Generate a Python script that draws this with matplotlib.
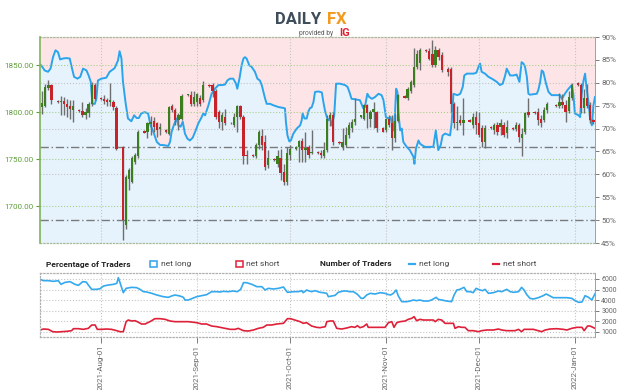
import numpy as np
import pandas as pd
import matplotlib
matplotlib.use("Agg")
import matplotlib.pyplot as plt
import matplotlib.dates as mdates
from matplotlib.patches import Rectangle
from matplotlib.lines import Line2D
from matplotlib.ticker import FormatStrFormatter

plt.rcParams['font.family'] = ['Roboto', 'DejaVu Sans']

# daily candles, Sunday to Friday sessions (no session on 2021-12-24)
candle_days = pd.bdate_range("2021-07-13", "2022-01-07", freq="C",
                             weekmask="Sun Mon Tue Wed Thu Fri",
                             holidays=["2021-12-24"])

# one row per week
opens = [1805, 1807, 1826, 1829,
         1812, 1811, 1812, 1809, 1807, 1802,
         1802, 1801, 1797, 1799, 1809, 1829,
         1815, 1814, 1813, 1811, 1811, 1804,
         1763, 1680, 1729, 1726, 1747, 1753,
         1780, 1779, 1787, 1791, 1788, 1782,
         1781, 1777, 1806, 1802, 1792, 1793,
         1818, 1818, 1809, 1811, 1815, 1813,
         1829, 1829, 1823, 1800, 1790, 1795,
         1788, 1786, 1795, 1806, 1795, 1754,
         1754, 1753, 1765, 1775, 1768, 1744,
         1750, 1745, 1751, 1736, 1726, 1754,
         1761, 1763, 1769, 1760, 1763, 1756,
         1758, 1756, 1753, 1760, 1793, 1797,
         1768, 1763, 1765, 1776, 1783, 1790,
         1795, 1793, 1808, 1793, 1800, 1800,
         1783, 1781, 1793, 1788, 1772, 1791,
         1817, 1815, 1822, 1829, 1848, 1852,
         1866, 1865, 1862, 1850, 1866, 1861,
         1846, 1846, 1809, 1788, 1792, 1788,
         1792, 1786, 1795, 1788, 1783, 1768,
         1784, 1781, 1786, 1784, 1786, 1778,
         1783, 1782, 1786, 1772, 1779, 1800,
         1800, 1800, 1793, 1792, 1802,
         1808, 1806, 1811, 1808, 1801, 1815,
         1831, 1829, 1804, 1815, 1808, 1792]
highs = [1822, 1830, 1834, 1830,
         1813, 1817, 1816, 1814, 1813, 1813,
         1803, 1811, 1804, 1811, 1832, 1831,
         1816, 1818, 1815, 1831, 1813, 1806,
         1764, 1733, 1740, 1753, 1756, 1781,
         1781, 1790, 1796, 1795, 1790, 1788,
         1782, 1806, 1809, 1804, 1799, 1819,
         1819, 1822, 1823, 1820, 1818, 1833,
         1830, 1831, 1825, 1802, 1800, 1803,
         1789, 1799, 1808, 1808, 1797, 1760,
         1755, 1767, 1781, 1782, 1776, 1760,
         1751, 1760, 1761, 1745, 1763, 1765,
         1764, 1770, 1772, 1779, 1765, 1781,
         1759, 1760, 1768, 1797, 1800, 1800,
         1769, 1783, 1784, 1789, 1793, 1815,
         1797, 1809, 1809, 1802, 1811, 1801,
         1784, 1794, 1797, 1797, 1798, 1819,
         1818, 1827, 1834, 1868, 1866, 1868,
         1867, 1868, 1877, 1870, 1868, 1864,
         1848, 1848, 1811, 1807, 1797, 1815,
         1793, 1799, 1801, 1800, 1786, 1786,
         1785, 1788, 1790, 1793, 1790, 1792,
         1784, 1789, 1788, 1783, 1800, 1815,
         1801, 1804, 1797, 1805, 1811,
         1809, 1820, 1819, 1813, 1822, 1831,
         1832, 1831, 1825, 1830, 1811, 1793]
lows = [1798, 1805, 1824, 1809,
        1810, 1797, 1797, 1795, 1793, 1790,
        1800, 1795, 1793, 1795, 1807, 1813,
        1813, 1809, 1807, 1807, 1802, 1760,
        1664, 1676, 1717, 1724, 1745, 1751,
        1778, 1772, 1776, 1779, 1774, 1776,
        1778, 1776, 1800, 1786, 1781, 1792,
        1817, 1806, 1806, 1806, 1806, 1811,
        1827, 1816, 1793, 1783, 1781, 1786,
        1787, 1784, 1779, 1793, 1745, 1745,
        1752, 1751, 1761, 1760, 1738, 1740,
        1748, 1742, 1728, 1722, 1722, 1749,
        1760, 1747, 1747, 1747, 1751, 1755,
        1755, 1751, 1751, 1758, 1785, 1765,
        1766, 1760, 1763, 1772, 1779, 1786,
        1794, 1792, 1783, 1784, 1783, 1779,
        1779, 1779, 1784, 1760, 1768, 1790,
        1815, 1813, 1820, 1827, 1846, 1845,
        1864, 1855, 1848, 1848, 1855, 1843,
        1839, 1800, 1783, 1781, 1786, 1776,
        1789, 1783, 1777, 1774, 1763, 1762,
        1782, 1777, 1776, 1776, 1774, 1772,
        1781, 1780, 1768, 1753, 1777, 1795,
        1798, 1786, 1784, 1790, 1799,
        1805, 1804, 1804, 1790, 1799, 1813,
        1828, 1799, 1799, 1804, 1788, 1787]
closes = [1810, 1827, 1829, 1813,
          1811, 1812, 1809, 1805, 1803, 1807,
          1801, 1797, 1800, 1809, 1829, 1814,
          1814, 1812, 1811, 1813, 1805, 1761,
          1685, 1731, 1738, 1751, 1754, 1779,
          1778, 1788, 1790, 1784, 1781, 1784,
          1779, 1805, 1802, 1792, 1797, 1817,
          1818, 1809, 1816, 1819, 1809, 1829,
          1828, 1822, 1795, 1789, 1797, 1788,
          1788, 1795, 1806, 1795, 1753, 1753,
          1753, 1765, 1779, 1765, 1742, 1751,
          1749, 1753, 1735, 1726, 1756, 1761,
          1763, 1769, 1760, 1762, 1754, 1758,
          1756, 1754, 1760, 1793, 1797, 1768,
          1767, 1768, 1776, 1786, 1790, 1793,
          1797, 1808, 1799, 1800, 1803, 1783,
          1779, 1793, 1786, 1772, 1791, 1818,
          1815, 1825, 1832, 1848, 1862, 1866,
          1865, 1857, 1850, 1866, 1859, 1845,
          1843, 1809, 1788, 1790, 1788, 1792,
          1790, 1795, 1786, 1776, 1768, 1783,
          1783, 1786, 1779, 1788, 1776, 1784,
          1782, 1786, 1774, 1777, 1799, 1797,
          1799, 1792, 1788, 1802, 1809,
          1806, 1811, 1808, 1800, 1816, 1829,
          1829, 1804, 1815, 1806, 1792, 1789]

# % of traders net long (days after 2021-08-01)
pct_days = [-19.7, -19.3, -18.2, -17.1, -16.3, -15.5, -14.7, -13.9, -13.2, -12.3,
            -11.2, -10.1, -9.6, -8.7, -7.6, -6.7, -5.8, -4.7, -4.0, -3.3,
            -2.8, -2.0, -1.5, -1.0, 0.1, 1.7, 2.8, 4.4, 5.5, 6.0,
            6.6, 7.1, 7.9, 8.7, 9.8, 10.7, 11.5, 12.2, 13.0, 14.1,
            15.2, 16.0, 16.9, 18.0, 19.1, 20.1, 21.7, 22.3, 22.8, 23.6,
            24.4, 25.0, 25.7, 26.4, 27.1, 27.9, 28.7, 29.6, 30.4, 31.4,
            32.5, 33.0, 33.6, 34.7, 35.7, 36.8, 37.9, 39.0, 40.0, 40.8,
            41.6, 42.7, 43.6, 44.0, 44.7, 45.4, 46.0, 46.5, 47.0, 47.9,
            48.6, 49.7, 50.5, 51.3, 51.9, 53.0, 53.5, 54.6, 55.6, 57.3,
            58.9, 59.4, 59.7, 60.2, 60.8, 61.3, 62.1, 63.2, 64.3, 64.8,
            65.1, 65.7, 66.4, 67.0, 67.5, 68.0, 68.6, 69.1, 70.2, 71.3,
            71.8, 72.3, 72.9, 73.4, 74.0, 74.5, 75.3, 75.9, 77.2, 78.8,
            79.6, 80.2, 80.9, 82.0, 83.6, 84.7, 85.2, 86.0, 86.6, 87.5,
            88.5, 89.6, 90.6, 91.2, 92.0, 92.8, 93.5, 94.4, 94.9, 95.3,
            95.7, 96.0, 96.6, 97.1, 97.6, 98.7, 99.7, 100.9, 101.2, 101.7,
            102.5, 103.0, 103.6, 104.6, 106.2, 107.3, 108.1, 108.9, 109.7, 110.3,
            111.1, 112.7, 113.2, 113.8, 115.1, 116.0, 116.8, 117.3, 118.1, 120.3,
            121.2, 121.9, 122.4, 122.9, 124.0, 125.1, 126.2, 127.8, 128.8, 129.7,
            130.5, 131.0, 132.1, 133.2, 134.2, 135.1, 135.8, 136.4, 136.9, 137.5,
            138.0, 138.5, 140.7, 141.2, 141.8, 142.3, 142.8, 143.7, 144.5, 145.5,
            148.2, 148.8, 149.8, 150.6, 152.0, 152.5, 153.0, 154.2, 154.7, 155.2,
            155.8, 156.3, 156.8, 157.4, 157.9, 158.5, 159.0, 159.5]
pct_long = [84.0, 83.8, 82.7, 82.4, 83.1, 85.6, 87.1, 86.7, 85.1, 85.3,
            85.4, 85.3, 83.8, 81.3, 80.9, 81.3, 83.1, 82.7, 81.6, 80.2,
            75.4, 75.4, 76.5, 80.5, 80.9, 81.1, 82.4, 83.2, 84.9, 86.9,
            85.3, 80.2, 75.8, 72.2, 71.6, 72.9, 72.3, 72.3, 73.3, 73.6,
            73.3, 70.7, 69.3, 67.1, 66.4, 66.4, 66.2, 67.1, 69.3, 70.9,
            72.2, 70.7, 70.4, 71.5, 68.9, 67.8, 67.4, 68.0, 69.3, 71.1,
            72.5, 73.3, 72.9, 75.1, 77.6, 78.7, 79.5, 79.5, 79.6, 80.5,
            80.9, 80.9, 79.8, 78.7, 80.9, 83.8, 85.3, 85.6, 85.3, 83.8,
            83.5, 82.4, 80.9, 80.5, 79.5, 76.5, 75.4, 75.4, 75.1, 74.7,
            74.5, 74.4, 71.5, 68.5, 67.2, 67.4, 68.9, 70.0, 70.7, 71.8,
            73.3, 72.2, 72.2, 73.8, 74.5, 74.6, 75.8, 78.0, 78.1, 77.9,
            75.8, 74.0, 72.5, 71.8, 72.2, 70.7, 72.9, 79.8, 79.8, 79.5,
            79.1, 78.0, 76.5, 76.4, 76.2, 74.4, 74.7, 77.6, 76.9, 76.5,
            76.9, 77.6, 77.3, 76.2, 72.5, 72.2, 72.5, 69.6, 72.9, 78.7,
            78.0, 73.6, 69.6, 70.0, 67.1, 66.0, 65.3, 63.8, 62.3, 65.6,
            67.4, 66.7, 66.4, 66.0, 66.0, 66.0, 69.6, 65.3, 66.4, 68.5,
            68.9, 68.5, 71.1, 77.6, 77.3, 77.6, 79.1, 81.6, 82.0, 82.0,
            82.2, 83.5, 84.2, 82.4, 82.0, 81.3, 80.9, 80.2, 79.5, 79.8,
            81.6, 83.1, 81.6, 81.6, 81.8, 80.2, 84.5, 84.2, 83.5, 81.3,
            77.6, 77.4, 77.6, 78.4, 80.2, 82.7, 82.4, 79.8, 78.0, 77.3,
            77.3, 76.5, 77.6, 78.4, 79.5, 77.6, 73.3, 72.9, 72.5, 77.6,
            80.5, 82.0, 78.7, 75.8, 72.2, 70.7, 75.1, 76.9]

# number of traders
long_days = [-19.7, -18.6, -17.0, -15.4, -13.8, -12.9, -11.6, -10.0, -8.4, -7.3,
             -5.9, -4.8, -4.1, -3.0, -1.4, -0.3, 0.8, 2.4, 4.0, 5.1,
             5.6, 6.4, 7.2, 8.1, 9.9, 11.5, 12.6, 13.7, 14.7, 16.4,
             18.0, 20.1, 21.7, 22.8, 23.9, 25.5, 26.6, 27.1, 28.2, 29.3,
             30.9, 32.5, 34.1, 35.7, 37.4, 38.4, 39.5, 41.1, 42.7, 44.0,
             45.1, 46.0, 47.0, 48.7, 50.3, 51.9, 53.0, 54.0, 55.7, 57.3,
             58.9, 60.2, 62.1, 63.7, 64.8, 65.3, 66.4, 66.9, 68.0, 69.1,
             70.7, 71.8, 72.9, 73.4, 74.5, 75.6, 76.6, 78.3, 79.3, 80.2,
             81.5, 82.8, 84.0, 84.7, 85.8, 86.9, 88.5, 90.1, 91.7, 92.5,
             93.5, 94.4, 95.3, 96.0, 97.1, 98.7, 99.8, 100.9, 101.9, 103.0,
             104.1, 105.7, 106.7, 108.2, 108.9, 110.0, 111.6, 113.2, 114.0, 114.9,
             115.9, 117.2, 118.1, 119.2, 120.2, 121.1, 122.4, 123.2, 124.0, 125.1,
             126.7, 128.3, 129.4, 131.0, 132.1, 133.2, 134.8, 135.8, 136.6, 137.4,
             138.5, 139.6, 141.2, 142.8, 143.7, 144.4, 146.0, 148.2, 150.4, 152.0,
             153.1, 154.2, 155.3, 156.3, 157.4, 158.5, 159.5]
long_count = [5968, 5841, 5841, 5778, 5841, 5493, 5683, 5746, 5493, 5398,
              5746, 5715, 5430, 5019, 5019, 5082, 5335, 5430, 5493, 5588,
              6126, 5430, 4702, 5114, 5208, 5177, 5019, 4797, 4766, 4639,
              4481, 4323, 4260, 4386, 4481, 4386, 4260, 4007, 4007, 4133,
              4323, 4418, 4513, 4797, 4797, 4766, 4829, 4797, 4861, 4797,
              5019, 5651, 5651, 5493, 5272, 5272, 4955, 5114, 5050, 5114,
              5240, 4734, 4797, 4797, 4892, 4702, 4955, 4892, 4797, 4892,
              4734, 4702, 4639, 4323, 4386, 4449, 4734, 4861, 4861, 4797,
              4797, 4544, 4165, 4165, 4481, 4639, 4576, 4702, 4639, 4544,
              4481, 4639, 4955, 4386, 3848, 3848, 3912, 4007, 3943, 4007,
              3912, 3912, 4007, 4260, 4070, 4007, 3912, 3848, 4481, 4955,
              5019, 5208, 4797, 4797, 4702, 5114, 4955, 4892, 5019, 4639,
              4702, 4861, 4797, 5019, 4797, 4734, 4797, 5208, 4955, 4544,
              4165, 4101, 4228, 4418, 4576, 4481, 4228, 4228, 4228, 4165,
              3943, 3785, 3817, 4418, 4260, 4007, 4600]
short_days = [-19.7, -18.6, -17.0, -15.6, -14.3, -12.7, -11.1, -9.5, -8.9, -7.3,
              -5.7, -4.1, -3.0, -1.9, -1.2, 0.2, 1.8, 3.4, 5.1, 6.1,
              7.2, 8.1, 8.8, 9.9, 11.0, 11.7, 13.1, 14.2, 15.8, 17.4,
              19.1, 20.7, 22.3, 23.9, 26.0, 28.2, 30.9, 32.5, 34.1, 35.7,
              37.4, 39.5, 41.7, 43.3, 44.3, 46.0, 47.6, 49.2, 50.8, 52.4,
              53.5, 55.1, 56.7, 58.9, 60.2, 61.2, 62.6, 64.3, 65.3, 66.4,
              68.0, 69.6, 70.7, 72.4, 72.9, 74.0, 75.0, 76.1, 77.7, 79.3,
              80.9, 82.0, 82.8, 83.6, 84.7, 85.8, 86.3, 87.4, 89.0, 90.6,
              91.7, 92.8, 93.9, 94.6, 95.5, 96.6, 98.2, 99.2, 100.3, 101.1,
              101.9, 103.0, 104.1, 105.7, 107.3, 107.9, 108.9, 110.0, 111.1, 112.7,
              113.8, 114.3, 115.4, 116.5, 117.5, 118.6, 120.2, 121.9, 122.9, 124.5,
              126.7, 128.3, 129.4, 131.0, 132.1, 133.7, 134.8, 135.8, 136.6, 138.0,
              139.6, 141.2, 142.3, 143.4, 145.0, 147.1, 149.3, 150.4, 152.0, 153.6,
              155.3, 156.0, 157.1, 157.9, 159.5]
short_count = [1160, 1254, 1223, 1002, 970, 1002, 1033, 1097, 1286, 1286,
               1223, 1318, 1634, 1634, 1223, 1223, 1254, 1223, 1097, 1002,
               1002, 1951, 2109, 2014, 2045, 1951, 1729, 1729, 1951, 2235,
               2235, 2172, 2014, 1951, 1951, 1951, 1856, 1729, 1729, 1539,
               1476, 1349, 1223, 1223, 1318, 1097, 1065, 1160, 1318, 1413,
               1634, 1634, 1729, 1793, 2235, 2235, 2109, 1951, 1793, 1856,
               1539, 1413, 1381, 1476, 1951, 2014, 2014, 1318, 1254, 1349,
               1476, 1413, 1571, 1381, 1476, 1729, 1413, 1413, 1413, 1413,
               1413, 1856, 1951, 1413, 1856, 1951, 2014, 2172, 2267, 2425,
               2045, 2172, 2109, 2109, 2109, 1951, 2172, 2109, 1793, 1793,
               1793, 1318, 1476, 1413, 1413, 1097, 1097, 1002, 1097, 1160,
               1160, 1254, 1160, 1097, 1097, 1097, 1223, 1002, 1223, 1223,
               1223, 1097, 1002, 1160, 1254, 1286, 1223, 1160, 1318, 1413,
               1413, 1097, 1539, 1539, 1318]

months = pd.date_range("2021-08-01", "2022-01-01", freq="MS")

t0 = mdates.date2num(pd.Timestamp("2021-08-01"))
x_lo, x_hi = t0 - 19.7, t0 + 159.5

grid_gray = '#c4c4c4'
txt_gray = '#666666'
green = '#5e9e3a'

fig = plt.figure(figsize=(6.24, 3.9), dpi=100)

# ---- main chart: sentiment background + price candles
ax = fig.add_axes([0.0641, 0.3769, 0.8894, 0.5282])
axp = ax.twinx()

px = t0 + np.array(pct_days)
ax.fill_between(px, pct_long, 100, color='#fde5e7', lw=0, zorder=0.5)
ax.fill_between(px, 0, pct_long, color='#e6f3fd', lw=0, zorder=0.5)
ax.plot(px, pct_long, color='#2ba4ec', lw=1.4, zorder=2)

for m in months:
    ax.axvline(mdates.date2num(m), color=grid_gray, lw=0.8, ls=':', zorder=1)
for p in [60, 70, 80]:
    ax.axhline(p, color=grid_gray, lw=0.8, ls=':', zorder=1)
for p in [50, 66]:
    ax.axhline(p, color='#7a7a7a', lw=1.0, dashes=(6, 2, 1, 2), zorder=1.6)

ax.set_xlim(x_lo, x_hi)
ax.set_ylim(45, 90)
ax.set_yticks(range(45, 91, 5))
ax.set_yticklabels([f"{p}%" for p in range(45, 91, 5)])
ax.yaxis.tick_right()
ax.tick_params(axis='y', colors=txt_gray, labelsize=5.8, length=3, width=0.6, pad=1.5)
ax.tick_params(axis='x', length=0, labelbottom=False)

x = mdates.date2num(candle_days)
o, h, l, c = map(np.array, (opens, highs, lows, closes))
up = c >= o
axp.vlines(x, l, h, color='#6e6e6e', lw=1.0, zorder=2)
axp.bar(x, np.maximum(np.abs(c - o), 0.9), bottom=np.minimum(o, c), width=0.74,
        color=np.where(up, '#3c7d1f', '#c8232b'), lw=0, zorder=3)

axp.set_ylim(1660.6, 1880)
axp.set_yticks([1700, 1750, 1800, 1850])
axp.yaxis.set_major_formatter(FormatStrFormatter('%.2f'))
axp.yaxis.tick_left()
axp.tick_params(axis='y', colors=green, labelsize=5.8, length=3, width=0.8, pad=1.5)
axp.yaxis.grid(True, color='#a9cf8c', lw=0.8, ls=':')
axp.set_xlim(x_lo, x_hi)

for s in ['top', 'bottom', 'right']:
    axp.spines[s].set_visible(False)
axp.spines['left'].set_color('#7fb35a')
axp.spines['left'].set_linewidth(1.2)
ax.spines['left'].set_visible(False)
ax.spines['right'].set_color('#a0a0a0')
ax.spines['right'].set_linewidth(0.7)
for s in ['top', 'bottom']:
    ax.spines[s].set_linestyle(':')
    ax.spines[s].set_color('#a8b89a')
    ax.spines[s].set_linewidth(0.9)

# ---- lower panel: number of traders
axb = fig.add_axes([0.0641, 0.1359, 0.8894, 0.1641])
axb.plot(t0 + np.array(long_days), long_count, color='#35a9ee', lw=1.2)
axb.plot(t0 + np.array(short_days), short_count, color='#df2039', lw=1.2)
for m in months:
    axb.axvline(mdates.date2num(m), color=grid_gray, lw=0.8, ls=':', zorder=0.5)
axb.set_xlim(x_lo, x_hi)
axb.set_ylim(497, 6569)
axb.set_yticks(range(1000, 6001, 1000))
axb.yaxis.tick_right()
axb.yaxis.grid(True, color=grid_gray, lw=0.8, ls=':')
axb.tick_params(axis='y', colors=txt_gray, labelsize=5, length=3, width=0.6, pad=1.5)
axb.set_xticks(mdates.date2num(months))
axb.xaxis.set_major_formatter(mdates.DateFormatter('%Y-%b-%d'))
axb.tick_params(axis='x', colors=txt_gray, labelsize=5.8, length=4, width=0.6,
                labelrotation=90, pad=1.5)
for s in ['top', 'bottom', 'left']:
    axb.spines[s].set_linestyle(':')
    axb.spines[s].set_color('#b0b0b0')
    axb.spines[s].set_linewidth(0.9)
axb.spines['right'].set_color('#a0a0a0')
axb.spines['right'].set_linewidth(0.7)

# ---- legend row
ly = 1 - 264 / 390
dark = '#222222'
fig.text(46 / 624, ly, "Percentage of Traders", fontsize=6, fontweight='bold',
         color=dark, va='center')
fig.add_artist(Rectangle((150 / 624, ly - 3.3 / 390), 6.5 / 624, 6.6 / 390,
                         transform=fig.transFigure, fill=False, ec='#2ba4ec', lw=1.1))
fig.text(161 / 624, ly, "net long", fontsize=6, color='#444444', va='center')
fig.add_artist(Rectangle((236 / 624, ly - 3.3 / 390), 6.5 / 624, 6.6 / 390,
                         transform=fig.transFigure, fill=False, ec='#df2039', lw=1.1))
fig.text(246 / 624, ly, "net short", fontsize=6, color='#444444', va='center')
fig.text(320 / 624, ly, "Number of Traders", fontsize=6, fontweight='bold',
         color=dark, va='center')
fig.add_artist(Line2D([409 / 624, 415 / 624], [ly, ly], transform=fig.transFigure,
                      color='#35a9ee', lw=1.6))
fig.text(419 / 624, ly, "net long", fontsize=6, color='#444444', va='center')
fig.add_artist(Line2D([493 / 624, 499 / 624], [ly, ly], transform=fig.transFigure,
                      color='#df2039', lw=1.6))
fig.text(503 / 624, ly, "net short", fontsize=6, color='#444444', va='center')

# ---- logo
fig.text(275 / 624, 1 - 24 / 390, "DAILY", fontsize=12, fontweight='bold',
         color='#3f4c5a', va='baseline')
fig.text(327 / 624, 1 - 24 / 390, "FX", fontsize=12, fontweight='bold',
         color='#f39a1e', va='baseline')
fig.text(299 / 624, 1 - 35 / 390, "provided by", fontsize=4.8, color='#555555',
         va='baseline')
fig.text(339 / 624, 1 - 35.5 / 390, "IG", fontsize=8, fontweight='bold',
         color='#e0202f', va='baseline')

fig.savefig("out.png", dpi=100)
